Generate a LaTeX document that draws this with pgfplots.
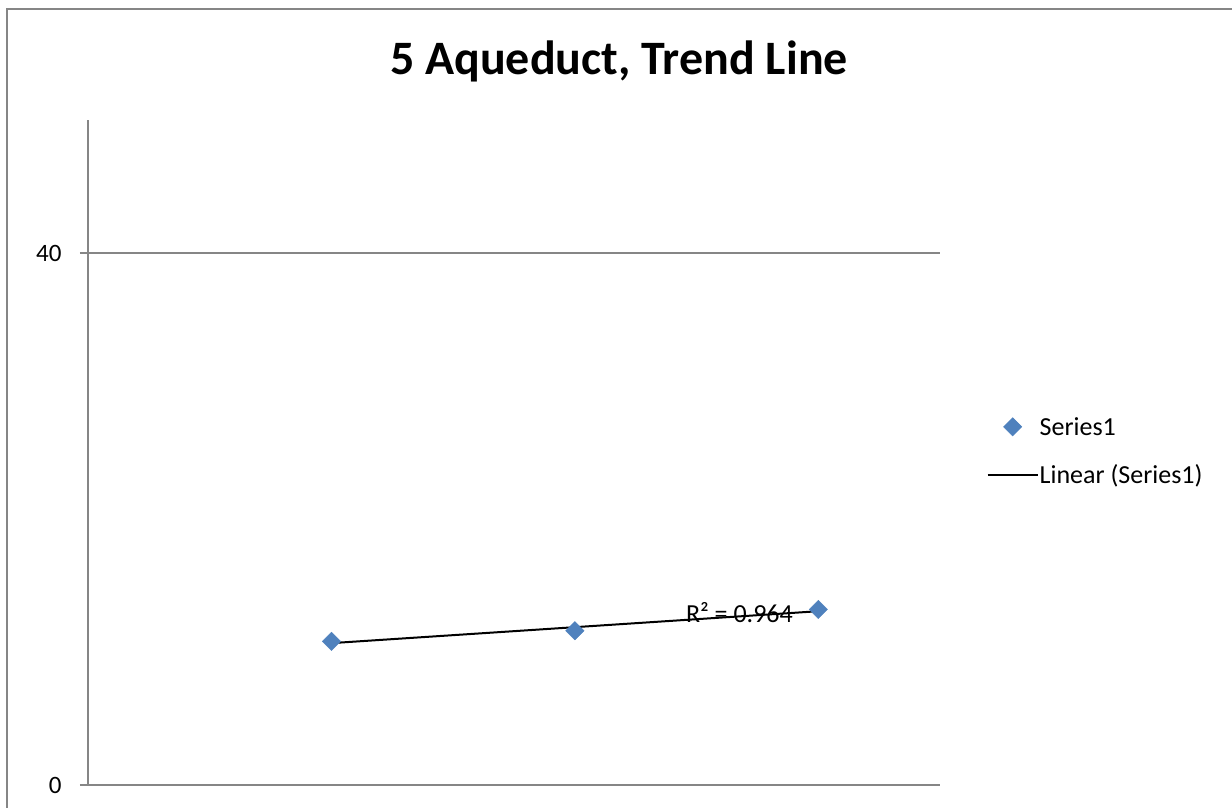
\documentclass[border=0pt]{standalone}
\usepackage{fontspec}
\setmainfont{Carlito}
\usepackage{pgfplots}
\pgfplotsset{compat=1.18}
\usepackage{pgfplotstable}
\definecolor{axgray}{HTML}{868686}
\definecolor{serblue}{HTML}{4F81BD}

% legend images: a single centred mark, and a 50pt line
\pgfplotsset{
  markleg/.style={legend image code/.code={%
    \draw[mark repeat=2,mark phase=2,##1] plot coordinates {(0pt,0pt)(25pt,0pt)(50pt,0pt)};}},
  lineleg/.style={legend image code/.code={%
    \draw[##1] (0pt,0pt) -- (50pt,0pt);}},
}

% measured values for the aqueduct series
\pgfplotstableread{
x y
1 10.8
2 11.6
3 13.2
}\aqueduct

\begin{document}
\begin{tikzpicture}[x=1pt,y=1pt]
\useasboundingbox (0,0) rectangle (1232,808);
% chart area frame
\draw[axgray, line width=2pt] (7,-20) -- (7,799) -- (1260,799);
\node[font=\bfseries\fontsize{48}{58}\selectfont, anchor=base] at (619,733) {5 Aqueduct, Trend Line};
\begin{axis}[
  at={(88pt,23pt)}, anchor=south west,
  scale only axis, width=852pt, height=665pt,
  xmin=0, xmax=3.5, ymin=0, ymax=50,
  xtick=\empty, ytick={0,40},
  axis x line*=bottom, axis y line*=left,
  axis line style={axgray, line width=1.5pt, -},
  ymajorgrids, grid style={axgray, line width=1.5pt},
  major tick length=8pt, tick align=outside,
  tick style={axgray, line width=1.5pt},
  ticklabel style={font=\fontsize{25}{30}\selectfont, text=black},
  yticklabel style={xshift=-15pt},
  /pgf/number format/assume math mode=true,
  clip=false,
  legend style={at={(1.051,0.558)}, anchor=north west, draw=none, fill=none,
    font=\fontsize{26}{31}\selectfont, row sep=26pt,
    nodes={inner sep=1pt}},
  legend cell align=left,
]
\addplot[only marks, mark=square*, mark options={rotate=45}, mark size=6.5pt, serblue, markleg]
  table[x=x, y=y] {\aqueduct};
\addlegendentry{Series1}
\addplot[black, line width=2pt, no marks, lineleg]
  table[x=x, y={create col/linear regression={y=y}}] {\aqueduct};
\addlegendentry{Linear (Series1)}
\node[font=\fontsize{26}{31}\selectfont] at (axis cs:2.676,12.93) {R² = 0.964};
\end{axis}
\end{tikzpicture}
\end{document}
